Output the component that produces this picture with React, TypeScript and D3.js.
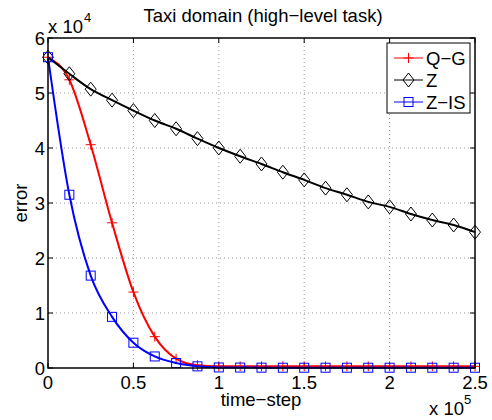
import * as d3 from "d3";

// time-step values where markers sit
const steps = [
  0, 12500, 25000, 37500, 50000, 62500, 75000, 87500, 100000, 112500, 125000,
  137500, 150000, 162500, 175000, 187500, 200000, 212500, 225000, 237500, 250000,
];
const qg = [
  56500, 52400, 40600, 26400, 13800, 5700, 1700, 500, 300, 300, 300, 300, 300,
  300, 300, 300, 300, 300, 300, 300, 300,
];
const z = [
  56500, 53500, 50700, 48700, 46800, 45000, 43500, 41700, 40000, 38500, 37100,
  35600, 34200, 32700, 31500, 30200, 29300, 28000, 26900, 26000, 24700,
];
const zis = [
  56500, 31500, 16800, 9300, 4600, 2100, 900, 300, 100, 80, 60, 50, 50, 50, 50,
  50, 50, 50, 50, 50, 50,
];
const xTicks = [0, 50000, 100000, 150000, 200000, 250000];
const xTickLabels = ["0", "0.5", "1", "1.5", "2", "2.5"];
const yTicks = [0, 10000, 20000, 30000, 40000, 50000, 60000];
const yTickLabels = ["0", "1", "2", "3", "4", "5", "6"];
const seriesNames = ["Q\u2212G", "Z", "Z\u2212IS"];

const W = 492;
const H = 420;
const left = 48, right = 475, top = 38, bottom = 368;
const font = "'Liberation Sans', Arial, Helvetica, sans-serif";
const fs = 18.5;

const x = d3.scaleLinear().domain([0, 250000]).range([left, right]);
const y = d3.scaleLinear().domain([0, 60000]).range([bottom, top]);

const line = d3
  .line<number>()
  .x((_, i) => x(steps[i]))
  .y((d) => y(d))
  .curve(d3.curveMonotoneX);

const colors = ["#ff0000", "#000000", "#0000ff"];

function Marker({ kind, cx, cy, color }: { kind: number; cx: number; cy: number; color: string }) {
  if (kind === 0)
    return (
      <path
        d={`M${cx - 5},${cy}H${cx + 5}M${cx},${cy - 5}V${cy + 5}`}
        stroke={color}
        strokeWidth={1}
        fill="none"
      />
    );
  if (kind === 1)
    return (
      <path
        d={`M${cx},${cy - 7}L${cx + 5.5},${cy}L${cx},${cy + 7}L${cx - 5.5},${cy}Z`}
        stroke={color}
        strokeWidth={1}
        fill="none"
      />
    );
  return <rect x={cx - 4.5} y={cy - 4.5} width={9} height={9} stroke={color} strokeWidth={1} fill="none" />;
}

export default function App() {
  const series = [qg, z, zis];
  return (
    <svg width={W} height={H} style={{ position: "absolute", left: 0, top: 0 }} fontFamily={font}>
      <rect width={W} height={H} fill="#fff" />
      {/* grid */}
      {xTicks.slice(1, -1).map((t) => (
        <line key={"gx" + t} x1={x(t)} x2={x(t)} y1={top} y2={bottom} stroke="#9a9a9a" strokeDasharray="1,3" />
      ))}
      {yTicks.slice(1, -1).map((t) => (
        <line key={"gy" + t} x1={left} x2={right} y1={y(t)} y2={y(t)} stroke="#9a9a9a" strokeDasharray="1,3" />
      ))}
      {/* ticks */}
      {xTicks.map((t) => (
        <g key={"tx" + t}>
          <line x1={x(t)} x2={x(t)} y1={bottom} y2={bottom - 5} stroke="#000" />
          <line x1={x(t)} x2={x(t)} y1={top} y2={top + 5} stroke="#000" />
        </g>
      ))}
      {yTicks.map((t) => (
        <g key={"ty" + t}>
          <line x1={left} x2={left + 5} y1={y(t)} y2={y(t)} stroke="#000" />
          <line x1={right} x2={right - 5} y1={y(t)} y2={y(t)} stroke="#000" />
        </g>
      ))}
      {/* series */}
      {series.map((s, k) => (
        <g key={"s" + k}>
          <path d={line(s) || undefined} fill="none" stroke={colors[k]} strokeWidth={2} />
          {s.map((v, i) => (
            <Marker key={i} kind={k} cx={x(steps[i])} cy={y(v)} color={colors[k]} />
          ))}
        </g>
      ))}
      {/* box */}
      <rect x={left} y={top} width={right - left} height={bottom - top} fill="none" stroke="#000" strokeWidth={1.5} />
      {/* tick labels */}
      {xTicks.map((t, i) => (
        <text key={"lx" + t} x={x(t)} y={389} textAnchor="middle" fontSize={fs}>
          {xTickLabels[i]}
        </text>
      ))}
      {yTicks.map((t, i) => (
        <text key={"ly" + t} x={left - 3} y={y(t) + 6.5} textAnchor="end" fontSize={fs}>
          {yTickLabels[i]}
        </text>
      ))}
      {/* exponents */}
      <text x={48} y={33} fontSize={fs}>x 10</text>
      <text x={84} y={22} fontSize={13}>4</text>
      <text x={429} y={415} fontSize={fs}>x 10</text>
      <text x={464} y={404} fontSize={13}>5</text>
      {/* labels */}
      <text x={263} y={22} textAnchor="middle" fontSize={fs}>
        Taxi domain (high{"\u2212"}level task)
      </text>
      <text x={261} y={406} textAnchor="middle" fontSize={fs}>
        time{"\u2212"}step
      </text>
      <text transform="translate(27,203) rotate(-90)" textAnchor="middle" fontSize={fs}>
        error
      </text>
      {/* legend */}
      <rect x={387} y={43} width={83} height={70} fill="#fff" stroke="#000" strokeWidth={1} />
      {seriesNames.map((n, k) => {
        const ly = 58 + k * 22;
        return (
          <g key={"lg" + k}>
            <line x1={394} x2={423} y1={ly} y2={ly} stroke={colors[k]} strokeWidth={1} />
            <Marker kind={k} cx={408.5} cy={ly} color={colors[k]} />
            <text x={426} y={ly + 6.5} fontSize={fs}>
              {n}
            </text>
          </g>
        );
      })}
    </svg>
  );
}
